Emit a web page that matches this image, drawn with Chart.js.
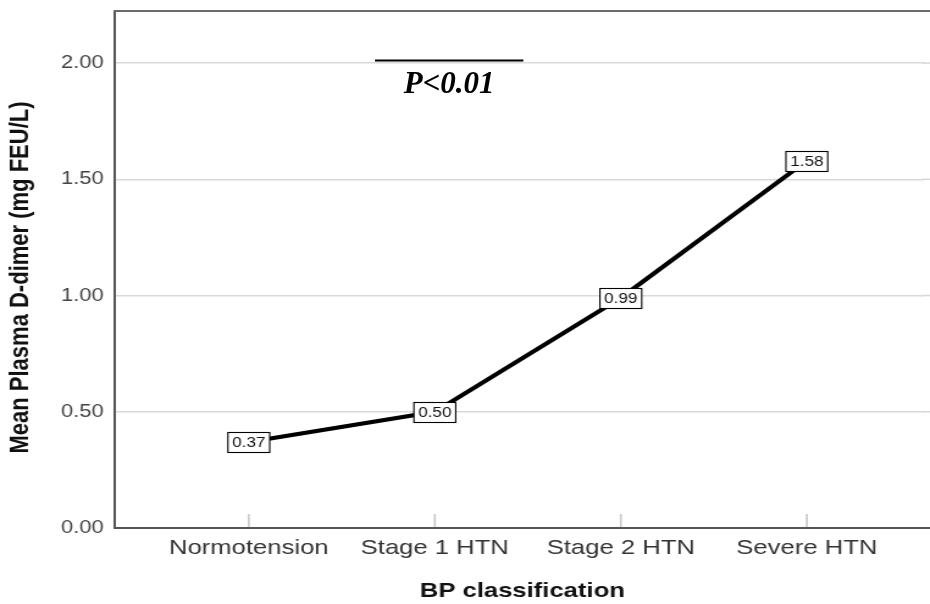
<!DOCTYPE html>
<html>
<head>
<meta charset="utf-8">
<script src="https://cdn.jsdelivr.net/npm/chart.js@4/dist/chart.umd.min.js"></script>
<style>
  html, body { margin: 0; padding: 0; background: #fff; overflow: hidden; }
  #view { display: block; }
</style>
</head>
<body>
<canvas id="view" width="930" height="604"></canvas>
<script>
// BP classification groups and mean plasma D-dimer (mg FEU/L)
const categories = ['Normotension', 'Stage 1 HTN', 'Stage 2 HTN', 'Severe HTN'];
const meanDDimer = [0.37, 0.50, 0.99, 1.58];
const yTicks = [0, 0.5, 1.0, 1.5, 2.0];
const xTitle = 'BP classification';
const yTitle = 'Mean Plasma D-dimer (mg FEU/L)';
const pValueText = 'P<0.01';

const PAGE_W = 930, PAGE_H = 604;
const CHART_W = 762;
const STRETCH = PAGE_W / CHART_W;

// The chart is laid out on a narrower working canvas, then widened onto the page canvas
const view = document.getElementById('view');
const work = document.createElement('canvas');
work.width = CHART_W;
work.height = PAGE_H;

const FONT = "'Liberation Sans', Arial, sans-serif";
const GRID_COLOR = '#d9d9d9';
const AXIS_COLOR = '#555';
const FRAME_TOP_COLOR = '#6a6a6a';

// Boxed value labels centred on each point
const valueBoxes = {
  id: 'valueBoxes',
  afterDatasetsDraw(chart) {
    const ctx = chart.ctx;
    const meta = chart.getDatasetMeta(0);
    ctx.save();
    ctx.font = '14px ' + FONT;
    ctx.textAlign = 'center';
    ctx.textBaseline = 'middle';
    meta.data.forEach((pt, i) => {
      const txt = meanDDimer[i].toFixed(2);
      const w = ctx.measureText(txt).width + 7;
      const h = 20;
      const x = pt.x - w / 2;
      const y = Math.round(pt.y - h / 2) + 0.5;
      ctx.fillStyle = '#fff';
      ctx.fillRect(x, y, w, h);
      ctx.strokeStyle = '#000';
      ctx.lineWidth = 1.1;
      ctx.strokeRect(x, y, w, h);
      ctx.fillStyle = '#111';
      ctx.fillText(txt, pt.x, pt.y + 1);
    });
    ctx.restore();
  }
};

// Frame top edge, inward category ticks and y-axis title
const frameAndTitle = {
  id: 'frameAndTitle',
  afterDraw(chart) {
    const ctx = chart.ctx;
    const area = chart.chartArea;
    const xs = chart.scales.x;
    ctx.save();
    ctx.strokeStyle = FRAME_TOP_COLOR;
    ctx.lineWidth = 2;
    ctx.beginPath();
    ctx.moveTo(area.left - 1, area.top);
    ctx.lineTo(area.right, area.top);
    ctx.stroke();
    ctx.strokeStyle = '#c8c8c8';
    ctx.lineWidth = 1.6;
    categories.forEach((_, i) => {
      const px = xs.getPixelForValue(i);
      ctx.beginPath();
      ctx.moveTo(px, area.bottom - 1);
      ctx.lineTo(px, area.bottom - 14);
      ctx.stroke();
    });
    ctx.translate(17, (area.top + area.bottom) / 2 + 8);
    ctx.rotate(-Math.PI / 2);
    ctx.fillStyle = '#111';
    ctx.font = 'bold 22px ' + FONT;
    ctx.textAlign = 'center';
    ctx.textBaseline = 'middle';
    ctx.fillText(yTitle, 0, 0);
    ctx.restore();
  }
};

// Copy the finished chart onto the page canvas and add the significance bracket
const presentOnPage = {
  id: 'presentOnPage',
  afterRender(chart) {
    const xs = chart.scales.x;
    const ys = chart.scales.y;
    const area = chart.chartArea;
    const ctx = view.getContext('2d');
    ctx.setTransform(1, 0, 0, 1, 0, 0);
    ctx.fillStyle = '#fff';
    ctx.fillRect(0, 0, PAGE_W, PAGE_H);
    ctx.imageSmoothingEnabled = true;
    ctx.imageSmoothingQuality = 'high';
    ctx.drawImage(work, 0, 0, CHART_W, PAGE_H, 0, 0, PAGE_W, PAGE_H);

    // the plot stays open on its right side: keep only the gridlines running off the edge
    const edge = area.right * STRETCH;
    ctx.fillStyle = '#fff';
    ctx.fillRect(edge - 6, area.top + 1.5, 6, area.bottom - area.top - 3);
    yTicks.forEach((v) => {
      if (v === 0) return;
      const py = ys.getPixelForValue(v);
      ctx.strokeStyle = GRID_COLOR;
      ctx.lineWidth = 1.6;
      ctx.beginPath();
      ctx.moveTo(edge - 8, py);
      ctx.lineTo(edge, py);
      ctx.stroke();
    });

    const x1 = xs.getPixelForValue(0.678) * STRETCH;
    const x2 = xs.getPixelForValue(1.476) * STRETCH;
    const yb = Math.round(ys.getPixelForValue(2.013)) + 0.5;
    ctx.strokeStyle = '#000';
    ctx.lineWidth = 2;
    ctx.beginPath();
    ctx.moveTo(x1, yb);
    ctx.lineTo(x2, yb);
    ctx.stroke();
    ctx.fillStyle = '#000';
    ctx.font = "italic bold 31px 'Liberation Serif', 'Times New Roman', serif";
    ctx.textAlign = 'center';
    ctx.textBaseline = 'alphabetic';
    ctx.fillText(pValueText, (x1 + x2) / 2, ys.getPixelForValue(1.871));
  }
};

new Chart(work, {
  type: 'line',
  data: {
    datasets: [{
      data: meanDDimer.map((v, i) => ({ x: i, y: v })),
      borderColor: '#000',
      borderWidth: 4,
      pointRadius: 0,
      pointHoverRadius: 0,
      tension: 0,
      fill: false
    }]
  },
  options: {
    responsive: false,
    animation: false,
    devicePixelRatio: 1,
    events: [],
    layout: { padding: { top: 11, right: 0, left: 0, bottom: 0 } },
    plugins: { legend: { display: false }, tooltip: { enabled: false } },
    scales: {
      x: {
        type: 'linear',
        min: -0.721,
        max: 3.662,
        afterBuildTicks: (s) => { s.ticks = categories.map((_, i) => ({ value: i })); },
        afterFit: (s) => { s.height = 76; s.paddingLeft = 0; s.paddingRight = 0; },
        grid: { display: false, drawTicks: false },
        border: { display: true, color: AXIS_COLOR, width: 2 },
        ticks: {
          callback: (v) => categories[v],
          font: { family: FONT, size: 21 },
          color: '#333',
          padding: 8,
          maxRotation: 0,
          autoSkip: false
        },
        title: {
          display: true,
          text: xTitle,
          font: { family: FONT, size: 21, weight: 'bold' },
          color: '#111',
          padding: { top: 2, bottom: 0 }
        }
      },
      y: {
        min: 0,
        max: 2.224,
        afterBuildTicks: (s) => { s.ticks = yTicks.map(v => ({ value: v })); },
        afterFit: (s) => { s.width = 94; s.paddingTop = 0; s.paddingBottom = 0; },
        grid: { color: GRID_COLOR, lineWidth: 1.6, drawTicks: false },
        border: { display: true, color: AXIS_COLOR, width: 2 },
        ticks: {
          callback: (v) => Number(v).toFixed(2),
          font: { family: FONT, size: 18 },
          color: '#444',
          padding: 9
        },
        title: { display: false }
      }
    }
  },
  plugins: [valueBoxes, frameAndTitle, presentOnPage]
});
</script>
</body>
</html>
